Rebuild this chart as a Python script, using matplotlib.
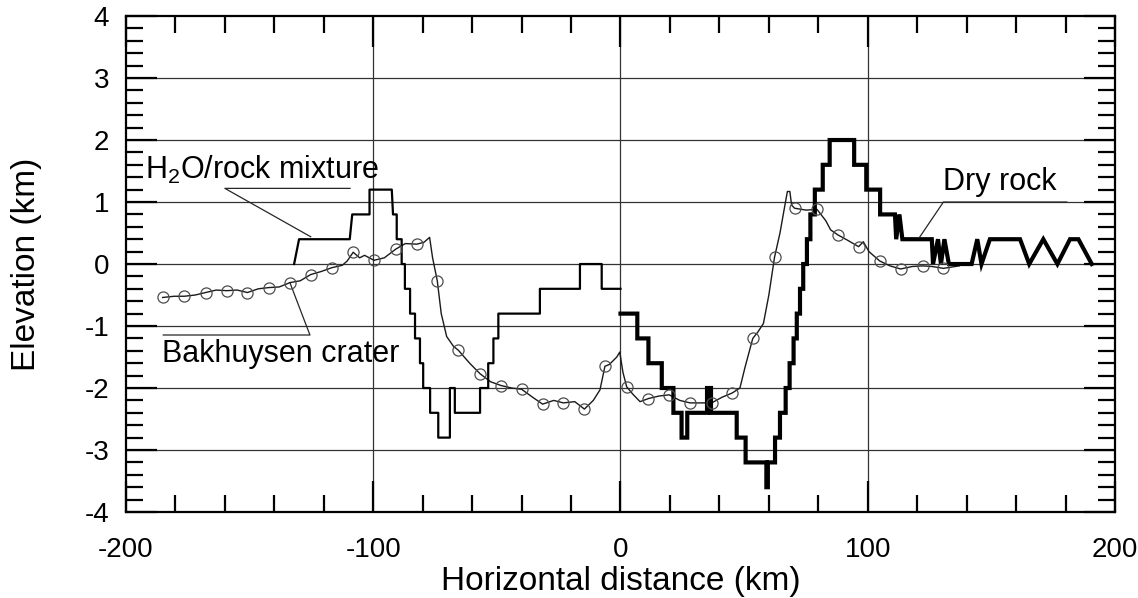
import numpy as np
import matplotlib

matplotlib.use("Agg")
import matplotlib.pyplot as plt
from matplotlib.ticker import MultipleLocator

plt.rcParams["font.family"] = ["Liberation Sans", "DejaVu Sans"]
plt.rcParams["axes.unicode_minus"] = False
plt.rcParams["mathtext.fontset"] = "custom"
plt.rcParams["mathtext.rm"] = "Liberation Sans"

# H2O/rock mixture model profile (km)
h2o_x = [-132.0, -130.0, -109.5, -108.5, -101.5, -101.5, -92.5, -92.0, -90.5, -90.5,
         -88.5, -88.5, -87.2, -87.2, -85.1, -85.1, -83.1, -83.1, -81.1, -81.1,
         -79.8, -79.8, -77.0, -77.0, -73.7, -73.7, -69.0, -69.0, -67.0, -67.0,
         -56.8, -56.8, -53.5, -53.5, -51.4, -51.4, -49.4, -49.4, -32.6, -32.6,
         -16.4, -16.4, -7.6, -7.6, 0.0]
h2o_y = [0.0, 0.4, 0.4, 0.8, 0.8, 1.2, 1.2, 0.8, 0.8, 0.4,
         0.4, 0.0, 0.0, -0.4, -0.4, -0.8, -0.8, -1.2, -1.2, -1.6,
         -1.6, -2.0, -2.0, -2.4, -2.4, -2.8, -2.8, -2.0, -2.0, -2.4,
         -2.4, -2.0, -2.0, -1.6, -1.6, -1.2, -1.2, -0.8, -0.8, -0.4,
         -0.4, 0.0, 0.0, -0.4, -0.4]

# Dry rock model profile (km)
dry_x = [0.0, 6.8, 6.8, 11.3, 11.3, 16.7, 16.7, 21.4, 21.4, 24.7,
         24.7, 27.0, 27.0, 35.0, 35.0, 36.6, 36.6, 47.0, 47.0, 50.6,
         50.6, 59.0, 59.0, 59.6, 59.6, 62.5, 62.5, 64.5, 64.5, 66.8,
         66.8, 68.4, 68.4, 70.0, 70.0, 71.3, 71.3, 72.6, 72.6, 73.9,
         73.9, 75.4, 75.4, 76.8, 76.8, 78.6, 78.6, 81.8, 81.8, 84.6,
         84.6, 94.5, 94.5, 99.4, 99.4, 105.0, 105.0, 111.0, 111.5, 112.8,
         114.0, 114.0, 125.9, 126.4, 128.4, 129.6, 131.0, 132.8, 142.0, 144.3,
         146.0, 149.4, 161.6, 165.3, 171.0, 176.7, 181.8, 185.2, 190.6]
dry_y = [-0.8, -0.8, -1.2, -1.2, -1.6, -1.6, -2.0, -2.0, -2.4, -2.4,
         -2.8, -2.8, -2.4, -2.4, -2.0, -2.0, -2.4, -2.4, -2.8, -2.8,
         -3.2, -3.2, -3.6, -3.6, -3.2, -3.2, -2.8, -2.8, -2.4, -2.4,
         -2.0, -2.0, -1.6, -1.6, -1.2, -1.2, -0.8, -0.8, -0.4, -0.4,
         0.0, 0.0, 0.4, 0.4, 0.8, 0.8, 1.2, 1.2, 1.6, 1.6,
         2.0, 2.0, 1.6, 1.6, 1.2, 1.2, 0.8, 0.8, 0.4, 0.8,
         0.4, 0.4, 0.4, 0.0, 0.4, 0.0, 0.4, 0.0, 0.0, 0.4,
         0.0, 0.4, 0.4, 0.0, 0.4, 0.0, 0.4, 0.4, 0.0]

# Bakhuysen crater observed profile (km)
crater_x = [-185.2, -180.5, -176.4, -172.0, -167.8, -163.5, -159.3, -155.0, -150.9, -146.5,
            -142.2, -138.0, -133.7, -129.5, -125.3, -121.0, -116.8, -112.5, -110.5, -108.1,
            -105.5, -103.5, -99.7, -95.5, -90.9, -87.0, -82.4, -79.5, -77.2, -76.0,
            -74.1, -72.5, -70.3, -67.5, -65.6, -61.0, -56.8, -52.5, -48.3, -44.0,
            -40.0, -35.5, -31.5, -27.0, -23.1, -18.5, -14.6, -11.0, -8.3, -6.3,
            -4.5, -1.5, -0.3, 1.0, 2.5, 5.0, 7.9, 11.3, 15.5, 19.7,
            24.0, 28.1, 32.5, 36.9, 41.0, 45.2, 48.3, 50.4, 53.5, 55.5,
            57.8, 60.0, 62.3, 64.5, 66.5, 67.5, 68.5, 69.2, 70.4, 75.0,
            79.5, 83.0, 85.0, 87.9, 92.0, 96.3, 98.2, 100.5, 104.8, 109.0,
            113.3, 118.0, 122.2, 126.0, 130.6, 137.0]
crater_y = [-0.54, -0.52, -0.52, -0.50, -0.46, -0.42, -0.43, -0.42, -0.46, -0.40,
            -0.38, -0.37, -0.30, -0.27, -0.17, -0.12, -0.06, -0.02, 0.05, 0.19,
            0.10, 0.14, 0.06, 0.10, 0.24, 0.33, 0.32, 0.35, 0.43, 0.10,
            -0.27, -0.80, -1.17, -1.33, -1.39, -1.60, -1.77, -1.90, -1.96, -2.00,
            -2.02, -2.15, -2.26, -2.20, -2.24, -2.22, -2.34, -2.20, -2.03, -1.65,
            -1.62, -1.50, -1.42, -1.75, -1.98, -2.10, -2.22, -2.17, -2.13, -2.11,
            -2.20, -2.24, -2.24, -2.24, -2.15, -2.08, -2.00, -1.66, -1.20, -1.10,
            -0.96, -0.50, 0.11, 0.50, 0.95, 1.17, 1.17, 0.95, 0.90, 0.87,
            0.88, 0.70, 0.55, 0.47, 0.38, 0.28, 0.36, 0.20, 0.05, -0.03,
            -0.08, -0.04, -0.03, -0.04, -0.07, -0.03]
# open circles placed along the crater profile
circle_x = [-185.2, -176.4, -167.8, -159.3, -150.9, -142.2, -133.7, -125.3, -116.8, -108.1,
            -99.7, -90.9, -82.4, -74.1, -65.6, -56.8, -48.3, -40.0, -31.5, -23.1,
            -14.6, -6.3, 2.5, 11.3, 19.7, 28.1, 36.9, 45.2, 53.5, 62.3,
            70.4, 79.5, 87.9, 96.3, 104.8, 113.3, 122.2, 130.6]
circle_y = [-0.54, -0.52, -0.46, -0.43, -0.46, -0.38, -0.30, -0.17, -0.06, 0.19,
            0.06, 0.24, 0.32, -0.27, -1.39, -1.77, -1.96, -2.02, -2.26, -2.24,
            -2.34, -1.65, -1.98, -2.17, -2.11, -2.24, -2.24, -2.08, -1.20, 0.11,
            0.90, 0.88, 0.47, 0.28, 0.05, -0.08, -0.03, -0.07]

fig = plt.figure(figsize=(11.38, 5.98), dpi=100)
ax = fig.add_axes([0.1107, 0.1438, 0.8691, 0.8294])

# grid
for gy in range(-3, 4):
    ax.axhline(gy, color="0.2", lw=0.9, zorder=1)
for gx in (-100, 0, 100):
    ax.axvline(gx, color="0.2", lw=0.9, zorder=1)

ax.plot(crater_x, crater_y, color="0.1", lw=1.0, zorder=3)
ax.plot(circle_x, circle_y, ls="none", marker="o", ms=8, mfc="none",
        mec="0.3", mew=0.9, zorder=4)
ax.plot(h2o_x, h2o_y, color="black", lw=1.6, zorder=3)
ax.plot(dry_x, dry_y, color="black", lw=3.0, zorder=3,
        solid_joinstyle="miter")

# labels with leader lines
ax.text(-192.3, 1.38, "H$_\\mathregular{2}$O/rock mixture", fontsize=22,
        ha="left", va="baseline")
ax.plot([-109.4, -160.0, -125.3], [1.22, 1.22, 0.44], color="0.15", lw=0.9)
ax.text(-185.6, -1.58, "Bakhuysen crater", fontsize=22, ha="left", va="baseline")
ax.plot([-133.7, -125.6, -184.9], [-0.30, -1.145, -1.145], color="0.15", lw=0.9)
ax.text(130.6, 1.19, "Dry rock", fontsize=22, ha="left", va="baseline")
ax.plot([180.5, 130.6, 121.1], [1.0, 1.0, 0.44], color="0.15", lw=0.9)

ax.set_xlim(-200, 200)
ax.set_ylim(-4, 4)
ax.xaxis.set_major_locator(MultipleLocator(100))
ax.xaxis.set_minor_locator(MultipleLocator(20))
ax.yaxis.set_major_locator(MultipleLocator(1))
ax.yaxis.set_minor_locator(MultipleLocator(0.2))
ax.tick_params(which="both", direction="in", top=True, right=True,
               width=1.6, labelsize=20)
ax.tick_params(which="major", length=22)
ax.tick_params(which="minor", length=12)
ax.tick_params(axis="y", which="major", pad=12)
ax.tick_params(axis="x", which="major", pad=18)
for sp in ax.spines.values():
    sp.set_linewidth(1.6)

ax.set_xlabel("Horizontal distance (km)", fontsize=24)
ax.set_ylabel("Elevation (km)", fontsize=24)
ax.xaxis.set_label_coords(0.5, -0.108)
ax.yaxis.set_label_coords(-0.085, 0.5)

fig.savefig("out.png", dpi=100)
